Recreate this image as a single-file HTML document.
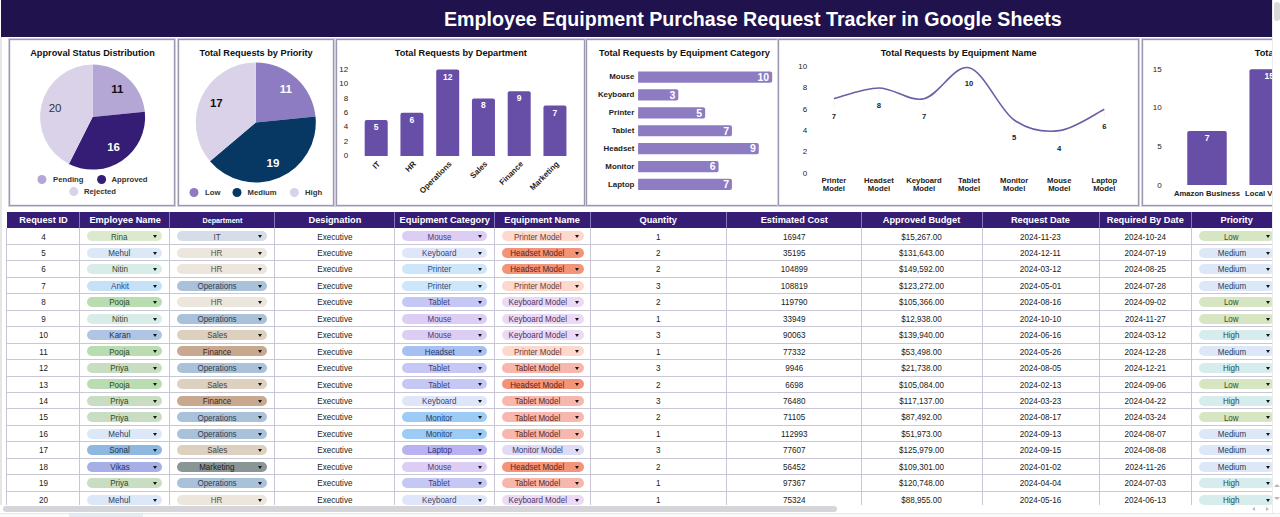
<!DOCTYPE html><html><head><meta charset="utf-8"><style>

*{margin:0;padding:0;box-sizing:border-box}
html,body{width:1280px;height:517px;overflow:hidden;background:#fff;font-family:"Liberation Sans", sans-serif;position:relative}
.abs{position:absolute}
.hdr{position:absolute;left:1px;top:0;width:1271px;height:37px;background:#20124d}
.ttl{position:absolute;left:444px;top:7.5px;font-size:19.65px;font-weight:bold;color:#fff;white-space:nowrap;line-height:22px}
.panel{position:absolute;top:39px;height:167px;border:1px solid #9c98b0;box-shadow:0 0 0 1px #d3d0de, inset 0 0 0 0.5px #dcd9e6;background:#fff}
svg text{font-family:"Liberation Sans", sans-serif}
.tbl{position:absolute;left:7px;top:212px}
.th{position:absolute;top:212px;height:16px;background:#351c75;color:#fff;font-weight:bold;font-size:9.25px;line-height:16px;text-align:center;white-space:nowrap}
.td{position:absolute;font-size:9px;color:#1a1a1a;text-align:center;white-space:nowrap;line-height:10px;transform:scaleX(0.9)}
.chip{position:absolute;height:10px;border-radius:5px;font-size:9px;line-height:10px;text-align:center;white-space:nowrap}
.chip span{display:inline-block;position:relative;left:-5px;top:0.3px;transform:scaleX(0.89)}
.chip i{position:absolute;right:4.6px;top:4px;width:0;height:0;border-left:2.7px solid transparent;border-right:2.7px solid transparent;border-top:3px solid #151515}

</style></head><body>
<div class="abs" style="left:0;top:37px;width:2px;height:476px;background:#e6e6e6"></div>
<div class="hdr"></div><div class="ttl">Employee Equipment Purchase Request Tracker in Google Sheets</div>
<div class="panel" style="left:9px;width:166px"></div>
<div class="panel" style="left:178px;width:156px"></div>
<div class="panel" style="left:336px;width:249px"></div>
<div class="panel" style="left:586px;width:193px"></div>
<div class="panel" style="left:778px;width:361px"></div>
<div class="panel" style="left:1142px;width:148px"></div>
<svg class="abs" style="left:0;top:0" width="1280" height="210" viewBox="0 0 1280 210"><text x="92.5" y="55.8" font-size="9.2" font-weight="bold" fill="#111" text-anchor="middle" >Approval Status Distribution</text>
<path d="M92.60,117.10 L92.60,64.60 A52.5,52.5 0 0 1 144.84,111.84 Z" fill="#b4a7d6"/>
<path d="M92.60,117.10 L144.84,111.84 A52.5,52.5 0 0 1 68.92,163.96 Z" fill="#351c75"/>
<path d="M92.60,117.10 L68.92,163.96 A52.5,52.5 0 0 1 92.60,64.60 Z" fill="#d9d2e9"/>
<text x="117.3" y="93.1" font-size="11.5" font-weight="bold" fill="#111" text-anchor="middle" >11</text>
<text x="113.6" y="151.2" font-size="11.5" font-weight="bold" fill="#fff" text-anchor="middle" >16</text>
<text x="55.1" y="111.9" font-size="11.5" font-weight="normal" fill="#333" text-anchor="middle" >20</text>
<circle cx="41.9" cy="179.5" r="4.5" fill="#b4a7d6"/>
<text x="53.1" y="182.3" font-size="7.7" font-weight="bold" fill="#333" text-anchor="start" >Pending</text>
<circle cx="101.6" cy="179.5" r="4.5" fill="#351c75"/>
<text x="111.5" y="182.3" font-size="7.7" font-weight="bold" fill="#333" text-anchor="start" >Approved</text>
<circle cx="73.8" cy="191.6" r="4.5" fill="#d9d2e9"/>
<text x="84" y="194.4" font-size="7.7" font-weight="bold" fill="#333" text-anchor="start" >Rejected</text>
<text x="256.1" y="55.5" font-size="9.2" font-weight="bold" fill="#111" text-anchor="middle" >Total Requests by Priority</text>
<path d="M255.80,122.50 L255.80,62.50 A60,60 0 0 1 315.50,116.49 Z" fill="#8e7cc3"/>
<path d="M255.80,122.50 L315.50,116.49 A60,60 0 0 1 209.98,161.24 Z" fill="#073763"/>
<path d="M255.80,122.50 L209.98,161.24 A60,60 0 0 1 255.80,62.50 Z" fill="#d9d2e9"/>
<text x="285.8" y="93.4" font-size="11.5" font-weight="bold" fill="#fff" text-anchor="middle" >11</text>
<text x="273" y="166.8" font-size="11.5" font-weight="bold" fill="#fff" text-anchor="middle" >19</text>
<text x="216.3" y="107.2" font-size="11.5" font-weight="bold" fill="#111" text-anchor="middle" >17</text>
<circle cx="194" cy="192.5" r="4.5" fill="#8e7cc3"/>
<text x="205" y="195.3" font-size="7.7" font-weight="bold" fill="#333" text-anchor="start" >Low</text>
<circle cx="237" cy="192.5" r="4.5" fill="#073763"/>
<text x="247.5" y="195.3" font-size="7.7" font-weight="bold" fill="#333" text-anchor="start" >Medium</text>
<circle cx="294.4" cy="192.5" r="4.5" fill="#d9d2e9"/>
<text x="305" y="195.3" font-size="7.7" font-weight="bold" fill="#333" text-anchor="start" >High</text>
<text x="460.8" y="55.8" font-size="9.2" font-weight="bold" fill="#111" text-anchor="middle" >Total Requests by Department</text>
<text x="348.1" y="158.2" font-size="8" font-weight="normal" fill="#222" text-anchor="end" >0</text>
<text x="348.1" y="143.79999999999998" font-size="8" font-weight="normal" fill="#222" text-anchor="end" >2</text>
<text x="348.1" y="129.4" font-size="8" font-weight="normal" fill="#222" text-anchor="end" >4</text>
<text x="348.1" y="115.0" font-size="8" font-weight="normal" fill="#222" text-anchor="end" >6</text>
<text x="348.1" y="100.60000000000001" font-size="8" font-weight="normal" fill="#222" text-anchor="end" >8</text>
<text x="348.1" y="86.2" font-size="8" font-weight="normal" fill="#222" text-anchor="end" >10</text>
<text x="348.1" y="71.8" font-size="8" font-weight="normal" fill="#222" text-anchor="end" >12</text>
<path d="M364.70,156 L364.70,122.00 Q364.70,120.00 366.70,120.00 L385.70,120.00 Q387.70,120.00 387.70,122.00 L387.70,156 Z" fill="#674ea7"/>
<text x="376.2" y="130.0" font-size="8.5" font-weight="bold" fill="#fff" text-anchor="middle" >5</text>
<text x="380.70" y="164.50" font-size="7.9" font-weight="bold" fill="#222" text-anchor="end" transform="rotate(-45 380.70 164.50)">IT</text>
<path d="M400.45,156 L400.45,114.80 Q400.45,112.80 402.45,112.80 L421.45,112.80 Q423.45,112.80 423.45,114.80 L423.45,156 Z" fill="#674ea7"/>
<text x="411.95" y="122.8" font-size="8.5" font-weight="bold" fill="#fff" text-anchor="middle" >6</text>
<text x="416.45" y="164.50" font-size="7.9" font-weight="bold" fill="#222" text-anchor="end" transform="rotate(-45 416.45 164.50)">HR</text>
<path d="M436.20,156 L436.20,71.60 Q436.20,69.60 438.20,69.60 L457.20,69.60 Q459.20,69.60 459.20,71.60 L459.20,156 Z" fill="#674ea7"/>
<text x="447.7" y="79.6" font-size="8.5" font-weight="bold" fill="#fff" text-anchor="middle" >12</text>
<text x="452.20" y="164.50" font-size="7.9" font-weight="bold" fill="#222" text-anchor="end" transform="rotate(-45 452.20 164.50)">Operations</text>
<path d="M471.95,156 L471.95,100.40 Q471.95,98.40 473.95,98.40 L492.95,98.40 Q494.95,98.40 494.95,100.40 L494.95,156 Z" fill="#674ea7"/>
<text x="483.45" y="108.4" font-size="8.5" font-weight="bold" fill="#fff" text-anchor="middle" >8</text>
<text x="487.95" y="164.50" font-size="7.9" font-weight="bold" fill="#222" text-anchor="end" transform="rotate(-45 487.95 164.50)">Sales</text>
<path d="M507.70,156 L507.70,93.20 Q507.70,91.20 509.70,91.20 L528.70,91.20 Q530.70,91.20 530.70,93.20 L530.70,156 Z" fill="#674ea7"/>
<text x="519.2" y="101.2" font-size="8.5" font-weight="bold" fill="#fff" text-anchor="middle" >9</text>
<text x="523.70" y="164.50" font-size="7.9" font-weight="bold" fill="#222" text-anchor="end" transform="rotate(-45 523.70 164.50)">Finance</text>
<path d="M543.45,156 L543.45,107.60 Q543.45,105.60 545.45,105.60 L564.45,105.60 Q566.45,105.60 566.45,107.60 L566.45,156 Z" fill="#674ea7"/>
<text x="554.95" y="115.6" font-size="8.5" font-weight="bold" fill="#fff" text-anchor="middle" >7</text>
<text x="559.45" y="164.50" font-size="7.9" font-weight="bold" fill="#222" text-anchor="end" transform="rotate(-45 559.45 164.50)">Marketing</text>
<text x="684.4" y="55.8" font-size="9.2" font-weight="bold" fill="#111" text-anchor="middle" >Total Requests by Equipment Category</text>
<path d="M638.1,71.45 L770.20,71.45 Q772.20,71.45 772.20,73.45 L772.20,80.65 Q772.20,82.65 770.20,82.65 L638.1,82.65 Z" fill="#8e7cc3"/>
<text x="634.3" y="79.45" font-size="7.9" font-weight="bold" fill="#222" text-anchor="end" >Mouse</text>
<text x="769.2" y="80.85" font-size="10.5" font-weight="bold" fill="#fff" text-anchor="end" >10</text>
<path d="M638.1,89.35 L676.33,89.35 Q678.33,89.35 678.33,91.35 L678.33,98.55 Q678.33,100.55 676.33,100.55 L638.1,100.55 Z" fill="#8e7cc3"/>
<text x="634.3" y="97.35" font-size="7.9" font-weight="bold" fill="#222" text-anchor="end" >Keyboard</text>
<text x="675.33" y="98.74999999999999" font-size="10.5" font-weight="bold" fill="#fff" text-anchor="end" >3</text>
<path d="M638.1,107.25 L703.15,107.25 Q705.15,107.25 705.15,109.25 L705.15,116.45 Q705.15,118.45 703.15,118.45 L638.1,118.45 Z" fill="#8e7cc3"/>
<text x="634.3" y="115.25" font-size="7.9" font-weight="bold" fill="#222" text-anchor="end" >Printer</text>
<text x="702.15" y="116.64999999999999" font-size="10.5" font-weight="bold" fill="#fff" text-anchor="end" >5</text>
<path d="M638.1,125.15 L729.97,125.15 Q731.97,125.15 731.97,127.15 L731.97,134.35 Q731.97,136.35 729.97,136.35 L638.1,136.35 Z" fill="#8e7cc3"/>
<text x="634.3" y="133.15" font-size="7.9" font-weight="bold" fill="#222" text-anchor="end" >Tablet</text>
<text x="728.97" y="134.55" font-size="10.5" font-weight="bold" fill="#fff" text-anchor="end" >7</text>
<path d="M638.1,143.05 L756.79,143.05 Q758.79,143.05 758.79,145.05 L758.79,152.25 Q758.79,154.25 756.79,154.25 L638.1,154.25 Z" fill="#8e7cc3"/>
<text x="634.3" y="151.04999999999998" font-size="7.9" font-weight="bold" fill="#222" text-anchor="end" >Headset</text>
<text x="755.79" y="152.45" font-size="10.5" font-weight="bold" fill="#fff" text-anchor="end" >9</text>
<path d="M638.1,160.95 L716.56,160.95 Q718.56,160.95 718.56,162.95 L718.56,170.15 Q718.56,172.15 716.56,172.15 L638.1,172.15 Z" fill="#8e7cc3"/>
<text x="634.3" y="168.95000000000002" font-size="7.9" font-weight="bold" fill="#222" text-anchor="end" >Monitor</text>
<text x="715.5600000000001" y="170.35000000000002" font-size="10.5" font-weight="bold" fill="#fff" text-anchor="end" >6</text>
<path d="M638.1,178.85 L729.97,178.85 Q731.97,178.85 731.97,180.85 L731.97,188.05 Q731.97,190.05 729.97,190.05 L638.1,190.05 Z" fill="#8e7cc3"/>
<text x="634.3" y="186.85" font-size="7.9" font-weight="bold" fill="#222" text-anchor="end" >Laptop</text>
<text x="728.97" y="188.25" font-size="10.5" font-weight="bold" fill="#fff" text-anchor="end" >7</text>
<text x="958.7" y="55.8" font-size="9.2" font-weight="bold" fill="#111" text-anchor="middle" >Total Requests by Equipment Name</text>
<text x="807.1" y="175.60000000000002" font-size="8" font-weight="normal" fill="#222" text-anchor="end" >0</text>
<text x="807.1" y="154.28000000000003" font-size="8" font-weight="normal" fill="#222" text-anchor="end" >2</text>
<text x="807.1" y="132.96000000000004" font-size="8" font-weight="normal" fill="#222" text-anchor="end" >4</text>
<text x="807.1" y="111.64" font-size="8" font-weight="normal" fill="#222" text-anchor="end" >6</text>
<text x="807.1" y="90.32000000000001" font-size="8" font-weight="normal" fill="#222" text-anchor="end" >8</text>
<text x="807.1" y="69.00000000000001" font-size="8" font-weight="normal" fill="#222" text-anchor="end" >10</text>
<text x="833.9" y="183.2" font-size="7.7" font-weight="bold" fill="#222" text-anchor="middle" >Printer</text>
<text x="833.9" y="191.2" font-size="7.7" font-weight="bold" fill="#222" text-anchor="middle" >Model</text>
<text x="878.97" y="183.2" font-size="7.7" font-weight="bold" fill="#222" text-anchor="middle" >Headset</text>
<text x="878.97" y="191.2" font-size="7.7" font-weight="bold" fill="#222" text-anchor="middle" >Model</text>
<text x="924.04" y="183.2" font-size="7.7" font-weight="bold" fill="#222" text-anchor="middle" >Keyboard</text>
<text x="924.04" y="191.2" font-size="7.7" font-weight="bold" fill="#222" text-anchor="middle" >Model</text>
<text x="969.11" y="183.2" font-size="7.7" font-weight="bold" fill="#222" text-anchor="middle" >Tablet</text>
<text x="969.11" y="191.2" font-size="7.7" font-weight="bold" fill="#222" text-anchor="middle" >Model</text>
<text x="1014.18" y="183.2" font-size="7.7" font-weight="bold" fill="#222" text-anchor="middle" >Monitor</text>
<text x="1014.18" y="191.2" font-size="7.7" font-weight="bold" fill="#222" text-anchor="middle" >Model</text>
<text x="1059.25" y="183.2" font-size="7.7" font-weight="bold" fill="#222" text-anchor="middle" >Mouse</text>
<text x="1059.25" y="191.2" font-size="7.7" font-weight="bold" fill="#222" text-anchor="middle" >Model</text>
<text x="1104.32" y="183.2" font-size="7.7" font-weight="bold" fill="#222" text-anchor="middle" >Laptop</text>
<text x="1104.32" y="191.2" font-size="7.7" font-weight="bold" fill="#222" text-anchor="middle" >Model</text>
<line x1="833.90" y1="100.68" x2="833.90" y2="107.60" stroke="#f0f0f4" stroke-width="0.8"/>
<text x="833.9" y="118.89999999999999" font-size="7.7" font-weight="bold" fill="#222" text-anchor="middle" >7</text>
<line x1="878.97" y1="90.02" x2="878.97" y2="97.00" stroke="#f0f0f4" stroke-width="0.8"/>
<text x="878.97" y="108.3" font-size="7.7" font-weight="bold" fill="#222" text-anchor="middle" >8</text>
<line x1="924.04" y1="100.68" x2="924.04" y2="107.60" stroke="#f0f0f4" stroke-width="0.8"/>
<text x="924.04" y="118.89999999999999" font-size="7.7" font-weight="bold" fill="#222" text-anchor="middle" >7</text>
<line x1="969.11" y1="68.70" x2="969.11" y2="75.00" stroke="#f0f0f4" stroke-width="0.8"/>
<text x="969.11" y="86.3" font-size="7.7" font-weight="bold" fill="#222" text-anchor="middle" >10</text>
<line x1="1014.18" y1="122.00" x2="1014.18" y2="128.30" stroke="#f0f0f4" stroke-width="0.8"/>
<text x="1014.18" y="139.60000000000002" font-size="7.7" font-weight="bold" fill="#222" text-anchor="middle" >5</text>
<line x1="1059.25" y1="132.66" x2="1059.25" y2="139.50" stroke="#f0f0f4" stroke-width="0.8"/>
<text x="1059.25" y="150.8" font-size="7.7" font-weight="bold" fill="#222" text-anchor="middle" >4</text>
<line x1="1104.32" y1="111.34" x2="1104.32" y2="117.80" stroke="#f0f0f4" stroke-width="0.8"/>
<text x="1104.32" y="129.1" font-size="7.7" font-weight="bold" fill="#222" text-anchor="middle" >6</text>
<path d="M833.90,98.68 C841.41,96.90 863.95,88.02 878.97,88.02 C893.99,88.02 909.02,102.05 924.04,98.68 C939.06,95.31 954.09,64.25 969.11,67.80 C984.13,71.35 999.16,109.52 1014.18,120.00 C1029.20,130.48 1044.23,132.44 1059.25,130.66 C1074.27,128.88 1096.81,112.89 1104.32,109.34" fill="none" stroke="#6a5ea6" stroke-width="1.6"/>
<text x="1254.8" y="55.8" font-size="9.2" font-weight="bold" fill="#111" text-anchor="start" >Total Requests by Vendor</text>
<text x="1161.7" y="187.5" font-size="8" font-weight="normal" fill="#222" text-anchor="end" >0</text>
<text x="1161.7" y="148.9" font-size="8" font-weight="normal" fill="#222" text-anchor="end" >5</text>
<text x="1161.7" y="110.3" font-size="8" font-weight="normal" fill="#222" text-anchor="end" >10</text>
<text x="1161.7" y="71.7" font-size="8" font-weight="normal" fill="#222" text-anchor="end" >15</text>
<path d="M1187.25,185.1 L1187.25,133.06 Q1187.25,131.06 1189.25,131.06 L1224.75,131.06 Q1226.75,131.06 1226.75,133.06 L1226.75,185.1 Z" fill="#674ea7"/>
<text x="1207" y="141.06" font-size="8.5" font-weight="bold" fill="#fff" text-anchor="middle" >7</text>
<text x="1207" y="196" font-size="7.7" font-weight="bold" fill="#222" text-anchor="middle" >Amazon Business</text>
<path d="M1249.45,185.1 L1249.45,71.30 Q1249.45,69.30 1251.45,69.30 L1286.95,69.30 Q1288.95,69.30 1288.95,71.30 L1288.95,185.1 Z" fill="#674ea7"/>
<text x="1269.2" y="79.3" font-size="8.5" font-weight="bold" fill="#fff" text-anchor="middle" >15</text>
<text x="1269.2" y="196" font-size="7.7" font-weight="bold" fill="#222" text-anchor="middle" >Local Vendor</text></svg>
<div class="abs" style="left:6.5px;top:212px;width:1265.5px;height:16px;background:#351c75"></div>
<div class="abs" style="left:6.5px;top:212px;width:73.0px;height:16px;line-height:16px;text-align:center;color:#fff;font-weight:bold;font-size:9.6px;white-space:nowrap;transform:scaleX(0.963)">Request ID</div>
<div class="abs" style="left:79.5px;top:212px;width:90.30000000000001px;height:16px;line-height:16px;text-align:center;color:#fff;font-weight:bold;font-size:9.6px;white-space:nowrap;transform:scaleX(0.963)">Employee Name</div>
<div class="abs" style="left:79.0px;top:212px;width:1px;height:16px;background:#8577bb"></div>
<div class="abs" style="left:169.8px;top:212.7px;width:104.89999999999998px;height:16px;line-height:16px;text-align:center;color:#fff;font-weight:bold;font-size:7.7px;white-space:nowrap;transform:scaleX(0.935)">Department</div>
<div class="abs" style="left:169.3px;top:212px;width:1px;height:16px;background:#8577bb"></div>
<div class="abs" style="left:274.7px;top:212px;width:119.80000000000001px;height:16px;line-height:16px;text-align:center;color:#fff;font-weight:bold;font-size:9.6px;white-space:nowrap;transform:scaleX(0.963)">Designation</div>
<div class="abs" style="left:274.2px;top:212px;width:1px;height:16px;background:#8577bb"></div>
<div class="abs" style="left:394.5px;top:212px;width:99.60000000000002px;height:16px;line-height:16px;text-align:center;color:#fff;font-weight:bold;font-size:9.6px;white-space:nowrap;transform:scaleX(0.963)">Equipment Category</div>
<div class="abs" style="left:394.0px;top:212px;width:1px;height:16px;background:#8577bb"></div>
<div class="abs" style="left:494.1px;top:212px;width:96.10000000000002px;height:16px;line-height:16px;text-align:center;color:#fff;font-weight:bold;font-size:9.6px;white-space:nowrap;transform:scaleX(0.963)">Equipment Name</div>
<div class="abs" style="left:493.6px;top:212px;width:1px;height:16px;background:#8577bb"></div>
<div class="abs" style="left:590.2px;top:212px;width:136.39999999999998px;height:16px;line-height:16px;text-align:center;color:#fff;font-weight:bold;font-size:9.6px;white-space:nowrap;transform:scaleX(0.963)">Quantity</div>
<div class="abs" style="left:589.7px;top:212px;width:1px;height:16px;background:#8577bb"></div>
<div class="abs" style="left:726.6px;top:212px;width:134.64999999999998px;height:16px;line-height:16px;text-align:center;color:#fff;font-weight:bold;font-size:9.6px;white-space:nowrap;transform:scaleX(0.963)">Estimated Cost</div>
<div class="abs" style="left:726.1px;top:212px;width:1px;height:16px;background:#8577bb"></div>
<div class="abs" style="left:861.25px;top:212px;width:120.95000000000005px;height:16px;line-height:16px;text-align:center;color:#fff;font-weight:bold;font-size:9.6px;white-space:nowrap;transform:scaleX(0.963)">Approved Budget</div>
<div class="abs" style="left:860.75px;top:212px;width:1px;height:16px;background:#8577bb"></div>
<div class="abs" style="left:982.2px;top:212px;width:116.89999999999986px;height:16px;line-height:16px;text-align:center;color:#fff;font-weight:bold;font-size:9.6px;white-space:nowrap;transform:scaleX(0.963)">Request Date</div>
<div class="abs" style="left:981.7px;top:212px;width:1px;height:16px;background:#8577bb"></div>
<div class="abs" style="left:1099.1px;top:212px;width:92.60000000000014px;height:16px;line-height:16px;text-align:center;color:#fff;font-weight:bold;font-size:9.6px;white-space:nowrap;transform:scaleX(0.963)">Required By Date</div>
<div class="abs" style="left:1098.6px;top:212px;width:1px;height:16px;background:#8577bb"></div>
<div class="abs" style="left:1191.7px;top:212px;width:89.29999999999995px;height:16px;line-height:16px;text-align:center;color:#fff;font-weight:bold;font-size:9.6px;white-space:nowrap;transform:scaleX(0.963)">Priority</div>
<div class="abs" style="left:1191.2px;top:212px;width:1px;height:16px;background:#8577bb"></div>
<div class="td" style="left:6.5px;top:231.50px;width:73.0px">4</div>
<div class="chip" style="left:87.2px;top:231.30px;width:74.80px;background:#dde9cc;color:#34502a"><span>Rina</span><i></i></div>
<div class="chip" style="left:177px;top:231.30px;width:89.70px;background:#d5dde8;color:#444"><span>IT</span><i></i></div>
<div class="td" style="left:274.7px;top:231.50px;width:119.80000000000001px">Executive</div>
<div class="chip" style="left:402.1px;top:231.30px;width:84.50px;background:#dccdf5;color:#4a3d7a"><span>Mouse</span><i></i></div>
<div class="chip" style="left:501.5px;top:231.30px;width:82.00px;background:#fcd8cd;color:#6a4038"><span>Printer Model</span><i></i></div>
<div class="td" style="left:590.2px;top:231.50px;width:136.39999999999998px">1</div>
<div class="td" style="left:726.6px;top:231.50px;width:134.64999999999998px">16947</div>
<div class="td" style="left:861.25px;top:231.50px;width:120.95000000000005px">$15,267.00</div>
<div class="td" style="left:982.2px;top:231.50px;width:116.89999999999986px">2024-11-23</div>
<div class="td" style="left:1099.1px;top:231.50px;width:92.60000000000014px">2024-10-24</div>
<div class="chip" style="left:1198.8px;top:231.30px;width:75.70px;background:#d6e6c3;color:#34502a"><span>Low</span><i></i></div>
<div class="abs" style="left:7px;top:243.95px;width:1265px;height:1px;background:#c9c6d6"></div>
<div class="td" style="left:6.5px;top:247.95px;width:73.0px">5</div>
<div class="chip" style="left:87.2px;top:247.75px;width:74.80px;background:#dce8f8;color:#2c3c5c"><span>Mehul</span><i></i></div>
<div class="chip" style="left:177px;top:247.75px;width:89.70px;background:#ece6dd;color:#555"><span>HR</span><i></i></div>
<div class="td" style="left:274.7px;top:247.95px;width:119.80000000000001px">Executive</div>
<div class="chip" style="left:402.1px;top:247.75px;width:84.50px;background:#e0e6fa;color:#3d4470"><span>Keyboard</span><i></i></div>
<div class="chip" style="left:501.5px;top:247.75px;width:82.00px;background:#f39479;color:#5a2418"><span>Headset Model</span><i></i></div>
<div class="td" style="left:590.2px;top:247.95px;width:136.39999999999998px">2</div>
<div class="td" style="left:726.6px;top:247.95px;width:134.64999999999998px">35195</div>
<div class="td" style="left:861.25px;top:247.95px;width:120.95000000000005px">$131,643.00</div>
<div class="td" style="left:982.2px;top:247.95px;width:116.89999999999986px">2024-12-11</div>
<div class="td" style="left:1099.1px;top:247.95px;width:92.60000000000014px">2024-07-19</div>
<div class="chip" style="left:1198.8px;top:247.75px;width:75.70px;background:#dce8f7;color:#2c3c5c"><span>Medium</span><i></i></div>
<div class="abs" style="left:7px;top:260.40px;width:1265px;height:1px;background:#c9c6d6"></div>
<div class="td" style="left:6.5px;top:264.40px;width:73.0px">6</div>
<div class="chip" style="left:87.2px;top:264.20px;width:74.80px;background:#d8ece8;color:#2a4a38"><span>Nitin</span><i></i></div>
<div class="chip" style="left:177px;top:264.20px;width:89.70px;background:#ece6dd;color:#555"><span>HR</span><i></i></div>
<div class="td" style="left:274.7px;top:264.40px;width:119.80000000000001px">Executive</div>
<div class="chip" style="left:402.1px;top:264.20px;width:84.50px;background:#cde6fa;color:#2d4d7a"><span>Printer</span><i></i></div>
<div class="chip" style="left:501.5px;top:264.20px;width:82.00px;background:#f39479;color:#5a2418"><span>Headset Model</span><i></i></div>
<div class="td" style="left:590.2px;top:264.40px;width:136.39999999999998px">2</div>
<div class="td" style="left:726.6px;top:264.40px;width:134.64999999999998px">104899</div>
<div class="td" style="left:861.25px;top:264.40px;width:120.95000000000005px">$149,592.00</div>
<div class="td" style="left:982.2px;top:264.40px;width:116.89999999999986px">2024-03-12</div>
<div class="td" style="left:1099.1px;top:264.40px;width:92.60000000000014px">2024-08-25</div>
<div class="chip" style="left:1198.8px;top:264.20px;width:75.70px;background:#dce8f7;color:#2c3c5c"><span>Medium</span><i></i></div>
<div class="abs" style="left:7px;top:276.85px;width:1265px;height:1px;background:#c9c6d6"></div>
<div class="td" style="left:6.5px;top:280.85px;width:73.0px">7</div>
<div class="chip" style="left:87.2px;top:280.65px;width:74.80px;background:#c5e0f7;color:#2b4a78"><span>Ankit</span><i></i></div>
<div class="chip" style="left:177px;top:280.65px;width:89.70px;background:#a9c1d9;color:#2c3e55"><span>Operations</span><i></i></div>
<div class="td" style="left:274.7px;top:280.85px;width:119.80000000000001px">Executive</div>
<div class="chip" style="left:402.1px;top:280.65px;width:84.50px;background:#cde6fa;color:#2d4d7a"><span>Printer</span><i></i></div>
<div class="chip" style="left:501.5px;top:280.65px;width:82.00px;background:#fcd8cd;color:#6a4038"><span>Printer Model</span><i></i></div>
<div class="td" style="left:590.2px;top:280.85px;width:136.39999999999998px">3</div>
<div class="td" style="left:726.6px;top:280.85px;width:134.64999999999998px">108819</div>
<div class="td" style="left:861.25px;top:280.85px;width:120.95000000000005px">$123,272.00</div>
<div class="td" style="left:982.2px;top:280.85px;width:116.89999999999986px">2024-05-01</div>
<div class="td" style="left:1099.1px;top:280.85px;width:92.60000000000014px">2024-07-28</div>
<div class="chip" style="left:1198.8px;top:280.65px;width:75.70px;background:#dce8f7;color:#2c3c5c"><span>Medium</span><i></i></div>
<div class="abs" style="left:7px;top:293.30px;width:1265px;height:1px;background:#c9c6d6"></div>
<div class="td" style="left:6.5px;top:297.30px;width:73.0px">8</div>
<div class="chip" style="left:87.2px;top:297.10px;width:74.80px;background:#b9dcb0;color:#2e4e2a"><span>Pooja</span><i></i></div>
<div class="chip" style="left:177px;top:297.10px;width:89.70px;background:#ece6dd;color:#555"><span>HR</span><i></i></div>
<div class="td" style="left:274.7px;top:297.30px;width:119.80000000000001px">Executive</div>
<div class="chip" style="left:402.1px;top:297.10px;width:84.50px;background:#c5c8f5;color:#3a3f7a"><span>Tablet</span><i></i></div>
<div class="chip" style="left:501.5px;top:297.10px;width:82.00px;background:#ecd9f5;color:#4a3560"><span>Keyboard Model</span><i></i></div>
<div class="td" style="left:590.2px;top:297.30px;width:136.39999999999998px">2</div>
<div class="td" style="left:726.6px;top:297.30px;width:134.64999999999998px">119790</div>
<div class="td" style="left:861.25px;top:297.30px;width:120.95000000000005px">$105,366.00</div>
<div class="td" style="left:982.2px;top:297.30px;width:116.89999999999986px">2024-08-16</div>
<div class="td" style="left:1099.1px;top:297.30px;width:92.60000000000014px">2024-09-02</div>
<div class="chip" style="left:1198.8px;top:297.10px;width:75.70px;background:#d6e6c3;color:#34502a"><span>Low</span><i></i></div>
<div class="abs" style="left:7px;top:309.75px;width:1265px;height:1px;background:#c9c6d6"></div>
<div class="td" style="left:6.5px;top:313.75px;width:73.0px">9</div>
<div class="chip" style="left:87.2px;top:313.55px;width:74.80px;background:#d8ece8;color:#2a4a38"><span>Nitin</span><i></i></div>
<div class="chip" style="left:177px;top:313.55px;width:89.70px;background:#a9c1d9;color:#2c3e55"><span>Operations</span><i></i></div>
<div class="td" style="left:274.7px;top:313.75px;width:119.80000000000001px">Executive</div>
<div class="chip" style="left:402.1px;top:313.55px;width:84.50px;background:#dccdf5;color:#4a3d7a"><span>Mouse</span><i></i></div>
<div class="chip" style="left:501.5px;top:313.55px;width:82.00px;background:#ecd9f5;color:#4a3560"><span>Keyboard Model</span><i></i></div>
<div class="td" style="left:590.2px;top:313.75px;width:136.39999999999998px">1</div>
<div class="td" style="left:726.6px;top:313.75px;width:134.64999999999998px">33949</div>
<div class="td" style="left:861.25px;top:313.75px;width:120.95000000000005px">$12,938.00</div>
<div class="td" style="left:982.2px;top:313.75px;width:116.89999999999986px">2024-10-10</div>
<div class="td" style="left:1099.1px;top:313.75px;width:92.60000000000014px">2024-11-27</div>
<div class="chip" style="left:1198.8px;top:313.55px;width:75.70px;background:#d6e6c3;color:#34502a"><span>Low</span><i></i></div>
<div class="abs" style="left:7px;top:326.20px;width:1265px;height:1px;background:#c9c6d6"></div>
<div class="td" style="left:6.5px;top:330.20px;width:73.0px">10</div>
<div class="chip" style="left:87.2px;top:330.00px;width:74.80px;background:#b0c4e4;color:#1f3050"><span>Karan</span><i></i></div>
<div class="chip" style="left:177px;top:330.00px;width:89.70px;background:#ddd0bf;color:#4a4036"><span>Sales</span><i></i></div>
<div class="td" style="left:274.7px;top:330.20px;width:119.80000000000001px">Executive</div>
<div class="chip" style="left:402.1px;top:330.00px;width:84.50px;background:#dccdf5;color:#4a3d7a"><span>Mouse</span><i></i></div>
<div class="chip" style="left:501.5px;top:330.00px;width:82.00px;background:#ecd9f5;color:#4a3560"><span>Keyboard Model</span><i></i></div>
<div class="td" style="left:590.2px;top:330.20px;width:136.39999999999998px">3</div>
<div class="td" style="left:726.6px;top:330.20px;width:134.64999999999998px">90063</div>
<div class="td" style="left:861.25px;top:330.20px;width:120.95000000000005px">$139,940.00</div>
<div class="td" style="left:982.2px;top:330.20px;width:116.89999999999986px">2024-06-16</div>
<div class="td" style="left:1099.1px;top:330.20px;width:92.60000000000014px">2024-03-12</div>
<div class="chip" style="left:1198.8px;top:330.00px;width:75.70px;background:#d7ecec;color:#2a4a44"><span>High</span><i></i></div>
<div class="abs" style="left:7px;top:342.65px;width:1265px;height:1px;background:#c9c6d6"></div>
<div class="td" style="left:6.5px;top:346.65px;width:73.0px">11</div>
<div class="chip" style="left:87.2px;top:346.45px;width:74.80px;background:#b9dcb0;color:#2e4e2a"><span>Pooja</span><i></i></div>
<div class="chip" style="left:177px;top:346.45px;width:89.70px;background:#c8a990;color:#3a2a1f"><span>Finance</span><i></i></div>
<div class="td" style="left:274.7px;top:346.65px;width:119.80000000000001px">Executive</div>
<div class="chip" style="left:402.1px;top:346.45px;width:84.50px;background:#a7c0f2;color:#24386c"><span>Headset</span><i></i></div>
<div class="chip" style="left:501.5px;top:346.45px;width:82.00px;background:#fcd8cd;color:#6a4038"><span>Printer Model</span><i></i></div>
<div class="td" style="left:590.2px;top:346.65px;width:136.39999999999998px">1</div>
<div class="td" style="left:726.6px;top:346.65px;width:134.64999999999998px">77332</div>
<div class="td" style="left:861.25px;top:346.65px;width:120.95000000000005px">$53,498.00</div>
<div class="td" style="left:982.2px;top:346.65px;width:116.89999999999986px">2024-05-26</div>
<div class="td" style="left:1099.1px;top:346.65px;width:92.60000000000014px">2024-12-28</div>
<div class="chip" style="left:1198.8px;top:346.45px;width:75.70px;background:#dce8f7;color:#2c3c5c"><span>Medium</span><i></i></div>
<div class="abs" style="left:7px;top:359.10px;width:1265px;height:1px;background:#c9c6d6"></div>
<div class="td" style="left:6.5px;top:363.10px;width:73.0px">12</div>
<div class="chip" style="left:87.2px;top:362.90px;width:74.80px;background:#c9ddc3;color:#2e4a2a"><span>Priya</span><i></i></div>
<div class="chip" style="left:177px;top:362.90px;width:89.70px;background:#a9c1d9;color:#2c3e55"><span>Operations</span><i></i></div>
<div class="td" style="left:274.7px;top:363.10px;width:119.80000000000001px">Executive</div>
<div class="chip" style="left:402.1px;top:362.90px;width:84.50px;background:#c5c8f5;color:#3a3f7a"><span>Tablet</span><i></i></div>
<div class="chip" style="left:501.5px;top:362.90px;width:82.00px;background:#f8b7ad;color:#5a2a26"><span>Tablet Model</span><i></i></div>
<div class="td" style="left:590.2px;top:363.10px;width:136.39999999999998px">3</div>
<div class="td" style="left:726.6px;top:363.10px;width:134.64999999999998px">9946</div>
<div class="td" style="left:861.25px;top:363.10px;width:120.95000000000005px">$21,738.00</div>
<div class="td" style="left:982.2px;top:363.10px;width:116.89999999999986px">2024-08-05</div>
<div class="td" style="left:1099.1px;top:363.10px;width:92.60000000000014px">2024-12-21</div>
<div class="chip" style="left:1198.8px;top:362.90px;width:75.70px;background:#d7ecec;color:#2a4a44"><span>High</span><i></i></div>
<div class="abs" style="left:7px;top:375.55px;width:1265px;height:1px;background:#c9c6d6"></div>
<div class="td" style="left:6.5px;top:379.55px;width:73.0px">13</div>
<div class="chip" style="left:87.2px;top:379.35px;width:74.80px;background:#b9dcb0;color:#2e4e2a"><span>Pooja</span><i></i></div>
<div class="chip" style="left:177px;top:379.35px;width:89.70px;background:#ddd0bf;color:#4a4036"><span>Sales</span><i></i></div>
<div class="td" style="left:274.7px;top:379.55px;width:119.80000000000001px">Executive</div>
<div class="chip" style="left:402.1px;top:379.35px;width:84.50px;background:#c5c8f5;color:#3a3f7a"><span>Tablet</span><i></i></div>
<div class="chip" style="left:501.5px;top:379.35px;width:82.00px;background:#f39479;color:#5a2418"><span>Headset Model</span><i></i></div>
<div class="td" style="left:590.2px;top:379.55px;width:136.39999999999998px">2</div>
<div class="td" style="left:726.6px;top:379.55px;width:134.64999999999998px">6698</div>
<div class="td" style="left:861.25px;top:379.55px;width:120.95000000000005px">$105,084.00</div>
<div class="td" style="left:982.2px;top:379.55px;width:116.89999999999986px">2024-02-13</div>
<div class="td" style="left:1099.1px;top:379.55px;width:92.60000000000014px">2024-09-06</div>
<div class="chip" style="left:1198.8px;top:379.35px;width:75.70px;background:#d6e6c3;color:#34502a"><span>Low</span><i></i></div>
<div class="abs" style="left:7px;top:392.00px;width:1265px;height:1px;background:#c9c6d6"></div>
<div class="td" style="left:6.5px;top:396.00px;width:73.0px">14</div>
<div class="chip" style="left:87.2px;top:395.80px;width:74.80px;background:#c9ddc3;color:#2e4a2a"><span>Priya</span><i></i></div>
<div class="chip" style="left:177px;top:395.80px;width:89.70px;background:#c8a990;color:#3a2a1f"><span>Finance</span><i></i></div>
<div class="td" style="left:274.7px;top:396.00px;width:119.80000000000001px">Executive</div>
<div class="chip" style="left:402.1px;top:395.80px;width:84.50px;background:#e0e6fa;color:#3d4470"><span>Keyboard</span><i></i></div>
<div class="chip" style="left:501.5px;top:395.80px;width:82.00px;background:#f8b7ad;color:#5a2a26"><span>Tablet Model</span><i></i></div>
<div class="td" style="left:590.2px;top:396.00px;width:136.39999999999998px">3</div>
<div class="td" style="left:726.6px;top:396.00px;width:134.64999999999998px">76480</div>
<div class="td" style="left:861.25px;top:396.00px;width:120.95000000000005px">$117,137.00</div>
<div class="td" style="left:982.2px;top:396.00px;width:116.89999999999986px">2024-03-23</div>
<div class="td" style="left:1099.1px;top:396.00px;width:92.60000000000014px">2024-04-22</div>
<div class="chip" style="left:1198.8px;top:395.80px;width:75.70px;background:#d7ecec;color:#2a4a44"><span>High</span><i></i></div>
<div class="abs" style="left:7px;top:408.45px;width:1265px;height:1px;background:#c9c6d6"></div>
<div class="td" style="left:6.5px;top:412.45px;width:73.0px">15</div>
<div class="chip" style="left:87.2px;top:412.25px;width:74.80px;background:#c9ddc3;color:#2e4a2a"><span>Priya</span><i></i></div>
<div class="chip" style="left:177px;top:412.25px;width:89.70px;background:#a9c1d9;color:#2c3e55"><span>Operations</span><i></i></div>
<div class="td" style="left:274.7px;top:412.45px;width:119.80000000000001px">Executive</div>
<div class="chip" style="left:402.1px;top:412.25px;width:84.50px;background:#9ccbf5;color:#1f3f6a"><span>Monitor</span><i></i></div>
<div class="chip" style="left:501.5px;top:412.25px;width:82.00px;background:#f8b7ad;color:#5a2a26"><span>Tablet Model</span><i></i></div>
<div class="td" style="left:590.2px;top:412.45px;width:136.39999999999998px">2</div>
<div class="td" style="left:726.6px;top:412.45px;width:134.64999999999998px">71105</div>
<div class="td" style="left:861.25px;top:412.45px;width:120.95000000000005px">$87,492.00</div>
<div class="td" style="left:982.2px;top:412.45px;width:116.89999999999986px">2024-08-17</div>
<div class="td" style="left:1099.1px;top:412.45px;width:92.60000000000014px">2024-03-24</div>
<div class="chip" style="left:1198.8px;top:412.25px;width:75.70px;background:#d6e6c3;color:#34502a"><span>Low</span><i></i></div>
<div class="abs" style="left:7px;top:424.90px;width:1265px;height:1px;background:#c9c6d6"></div>
<div class="td" style="left:6.5px;top:428.90px;width:73.0px">16</div>
<div class="chip" style="left:87.2px;top:428.70px;width:74.80px;background:#dce8f8;color:#2c3c5c"><span>Mehul</span><i></i></div>
<div class="chip" style="left:177px;top:428.70px;width:89.70px;background:#a9c1d9;color:#2c3e55"><span>Operations</span><i></i></div>
<div class="td" style="left:274.7px;top:428.90px;width:119.80000000000001px">Executive</div>
<div class="chip" style="left:402.1px;top:428.70px;width:84.50px;background:#9ccbf5;color:#1f3f6a"><span>Monitor</span><i></i></div>
<div class="chip" style="left:501.5px;top:428.70px;width:82.00px;background:#f8b7ad;color:#5a2a26"><span>Tablet Model</span><i></i></div>
<div class="td" style="left:590.2px;top:428.90px;width:136.39999999999998px">1</div>
<div class="td" style="left:726.6px;top:428.90px;width:134.64999999999998px">112993</div>
<div class="td" style="left:861.25px;top:428.90px;width:120.95000000000005px">$51,973.00</div>
<div class="td" style="left:982.2px;top:428.90px;width:116.89999999999986px">2024-09-13</div>
<div class="td" style="left:1099.1px;top:428.90px;width:92.60000000000014px">2024-08-07</div>
<div class="chip" style="left:1198.8px;top:428.70px;width:75.70px;background:#dce8f7;color:#2c3c5c"><span>Medium</span><i></i></div>
<div class="abs" style="left:7px;top:441.35px;width:1265px;height:1px;background:#c9c6d6"></div>
<div class="td" style="left:6.5px;top:445.35px;width:73.0px">17</div>
<div class="chip" style="left:87.2px;top:445.15px;width:74.80px;background:#8fb8e0;color:#1c3450"><span>Sonal</span><i></i></div>
<div class="chip" style="left:177px;top:445.15px;width:89.70px;background:#ddd0bf;color:#4a4036"><span>Sales</span><i></i></div>
<div class="td" style="left:274.7px;top:445.35px;width:119.80000000000001px">Executive</div>
<div class="chip" style="left:402.1px;top:445.15px;width:84.50px;background:#b8b2f2;color:#35307a"><span>Laptop</span><i></i></div>
<div class="chip" style="left:501.5px;top:445.15px;width:82.00px;background:#dfdbf5;color:#3a3a6a"><span>Monitor Model</span><i></i></div>
<div class="td" style="left:590.2px;top:445.35px;width:136.39999999999998px">3</div>
<div class="td" style="left:726.6px;top:445.35px;width:134.64999999999998px">77607</div>
<div class="td" style="left:861.25px;top:445.35px;width:120.95000000000005px">$125,979.00</div>
<div class="td" style="left:982.2px;top:445.35px;width:116.89999999999986px">2024-09-15</div>
<div class="td" style="left:1099.1px;top:445.35px;width:92.60000000000014px">2024-08-08</div>
<div class="chip" style="left:1198.8px;top:445.15px;width:75.70px;background:#dce8f7;color:#2c3c5c"><span>Medium</span><i></i></div>
<div class="abs" style="left:7px;top:457.80px;width:1265px;height:1px;background:#c9c6d6"></div>
<div class="td" style="left:6.5px;top:461.80px;width:73.0px">18</div>
<div class="chip" style="left:87.2px;top:461.60px;width:74.80px;background:#a6b0e6;color:#2a3068"><span>Vikas</span><i></i></div>
<div class="chip" style="left:177px;top:461.60px;width:89.70px;background:#8a9596;color:#1a2222"><span>Marketing</span><i></i></div>
<div class="td" style="left:274.7px;top:461.80px;width:119.80000000000001px">Executive</div>
<div class="chip" style="left:402.1px;top:461.60px;width:84.50px;background:#dccdf5;color:#4a3d7a"><span>Mouse</span><i></i></div>
<div class="chip" style="left:501.5px;top:461.60px;width:82.00px;background:#f39479;color:#5a2418"><span>Headset Model</span><i></i></div>
<div class="td" style="left:590.2px;top:461.80px;width:136.39999999999998px">2</div>
<div class="td" style="left:726.6px;top:461.80px;width:134.64999999999998px">56452</div>
<div class="td" style="left:861.25px;top:461.80px;width:120.95000000000005px">$109,301.00</div>
<div class="td" style="left:982.2px;top:461.80px;width:116.89999999999986px">2024-01-02</div>
<div class="td" style="left:1099.1px;top:461.80px;width:92.60000000000014px">2024-11-26</div>
<div class="chip" style="left:1198.8px;top:461.60px;width:75.70px;background:#dce8f7;color:#2c3c5c"><span>Medium</span><i></i></div>
<div class="abs" style="left:7px;top:474.25px;width:1265px;height:1px;background:#c9c6d6"></div>
<div class="td" style="left:6.5px;top:478.25px;width:73.0px">19</div>
<div class="chip" style="left:87.2px;top:478.05px;width:74.80px;background:#c9ddc3;color:#2e4a2a"><span>Priya</span><i></i></div>
<div class="chip" style="left:177px;top:478.05px;width:89.70px;background:#a9c1d9;color:#2c3e55"><span>Operations</span><i></i></div>
<div class="td" style="left:274.7px;top:478.25px;width:119.80000000000001px">Executive</div>
<div class="chip" style="left:402.1px;top:478.05px;width:84.50px;background:#c5c8f5;color:#3a3f7a"><span>Tablet</span><i></i></div>
<div class="chip" style="left:501.5px;top:478.05px;width:82.00px;background:#f8b7ad;color:#5a2a26"><span>Tablet Model</span><i></i></div>
<div class="td" style="left:590.2px;top:478.25px;width:136.39999999999998px">1</div>
<div class="td" style="left:726.6px;top:478.25px;width:134.64999999999998px">97367</div>
<div class="td" style="left:861.25px;top:478.25px;width:120.95000000000005px">$120,748.00</div>
<div class="td" style="left:982.2px;top:478.25px;width:116.89999999999986px">2024-04-04</div>
<div class="td" style="left:1099.1px;top:478.25px;width:92.60000000000014px">2024-07-03</div>
<div class="chip" style="left:1198.8px;top:478.05px;width:75.70px;background:#d7ecec;color:#2a4a44"><span>High</span><i></i></div>
<div class="abs" style="left:7px;top:490.70px;width:1265px;height:1px;background:#c9c6d6"></div>
<div class="td" style="left:6.5px;top:494.70px;width:73.0px">20</div>
<div class="chip" style="left:87.2px;top:494.50px;width:74.80px;background:#dce8f8;color:#2c3c5c"><span>Mehul</span><i></i></div>
<div class="chip" style="left:177px;top:494.50px;width:89.70px;background:#ece6dd;color:#555"><span>HR</span><i></i></div>
<div class="td" style="left:274.7px;top:494.70px;width:119.80000000000001px">Executive</div>
<div class="chip" style="left:402.1px;top:494.50px;width:84.50px;background:#e0e6fa;color:#3d4470"><span>Keyboard</span><i></i></div>
<div class="chip" style="left:501.5px;top:494.50px;width:82.00px;background:#ecd9f5;color:#4a3560"><span>Keyboard Model</span><i></i></div>
<div class="td" style="left:590.2px;top:494.70px;width:136.39999999999998px">1</div>
<div class="td" style="left:726.6px;top:494.70px;width:134.64999999999998px">75324</div>
<div class="td" style="left:861.25px;top:494.70px;width:120.95000000000005px">$88,955.00</div>
<div class="td" style="left:982.2px;top:494.70px;width:116.89999999999986px">2024-05-16</div>
<div class="td" style="left:1099.1px;top:494.70px;width:92.60000000000014px">2024-06-13</div>
<div class="chip" style="left:1198.8px;top:494.50px;width:75.70px;background:#d7ecec;color:#2a4a44"><span>High</span><i></i></div>
<div class="abs" style="left:7px;top:507.15px;width:1265px;height:1px;background:#c9c6d6"></div>
<div class="abs" style="left:6.0px;top:228px;width:1px;height:277px;background:#c9c6d6"></div>
<div class="abs" style="left:79.0px;top:228px;width:1px;height:277px;background:#c9c6d6"></div>
<div class="abs" style="left:169.3px;top:228px;width:1px;height:277px;background:#c9c6d6"></div>
<div class="abs" style="left:274.2px;top:228px;width:1px;height:277px;background:#c9c6d6"></div>
<div class="abs" style="left:394.0px;top:228px;width:1px;height:277px;background:#c9c6d6"></div>
<div class="abs" style="left:493.6px;top:228px;width:1px;height:277px;background:#c9c6d6"></div>
<div class="abs" style="left:589.7px;top:228px;width:1px;height:277px;background:#c9c6d6"></div>
<div class="abs" style="left:726.1px;top:228px;width:1px;height:277px;background:#c9c6d6"></div>
<div class="abs" style="left:860.75px;top:228px;width:1px;height:277px;background:#c9c6d6"></div>
<div class="abs" style="left:981.7px;top:228px;width:1px;height:277px;background:#c9c6d6"></div>
<div class="abs" style="left:1098.6px;top:228px;width:1px;height:277px;background:#c9c6d6"></div>
<div class="abs" style="left:1191.2px;top:228px;width:1px;height:277px;background:#c9c6d6"></div>
<div class="abs" style="left:1272px;top:0;width:8px;height:517px;background:#fff;border-left:1px solid #ececec"></div>
<div class="abs" style="left:1273.5px;top:2px;width:6px;height:19px;border-radius:3px;background:#dadada"></div>
<div class="abs" style="left:1274px;top:484px;width:0;height:0;border-left:3px solid transparent;border-right:3px solid transparent;border-bottom:3px solid #b8b8b8"></div>
<div class="abs" style="left:1274px;top:497px;width:0;height:0;border-left:3px solid transparent;border-right:3px solid transparent;border-top:3px solid #b8b8b8"></div>
<div class="abs" style="left:0;top:504.5px;width:1272px;height:8px;background:#fff"></div>
<div class="abs" style="left:3px;top:505.5px;width:834px;height:6.5px;border-radius:3.5px;background:#d6d6da"></div>
<div class="abs" style="left:1252px;top:507px;width:0;height:0;border-top:2.5px solid transparent;border-bottom:2.5px solid transparent;border-right:3px solid #bbb"></div>
<div class="abs" style="left:1265.5px;top:507px;width:0;height:0;border-top:2.5px solid transparent;border-bottom:2.5px solid transparent;border-left:3px solid #bbb"></div>
<div class="abs" style="left:0;top:512.5px;width:1280px;height:5px;background:#fafafa;border-top:1px solid #e8e8e8"></div>
<div class="abs" style="left:68.5px;top:513.5px;width:74px;height:4px;background:#e4e9f2"></div>
</body></html>
